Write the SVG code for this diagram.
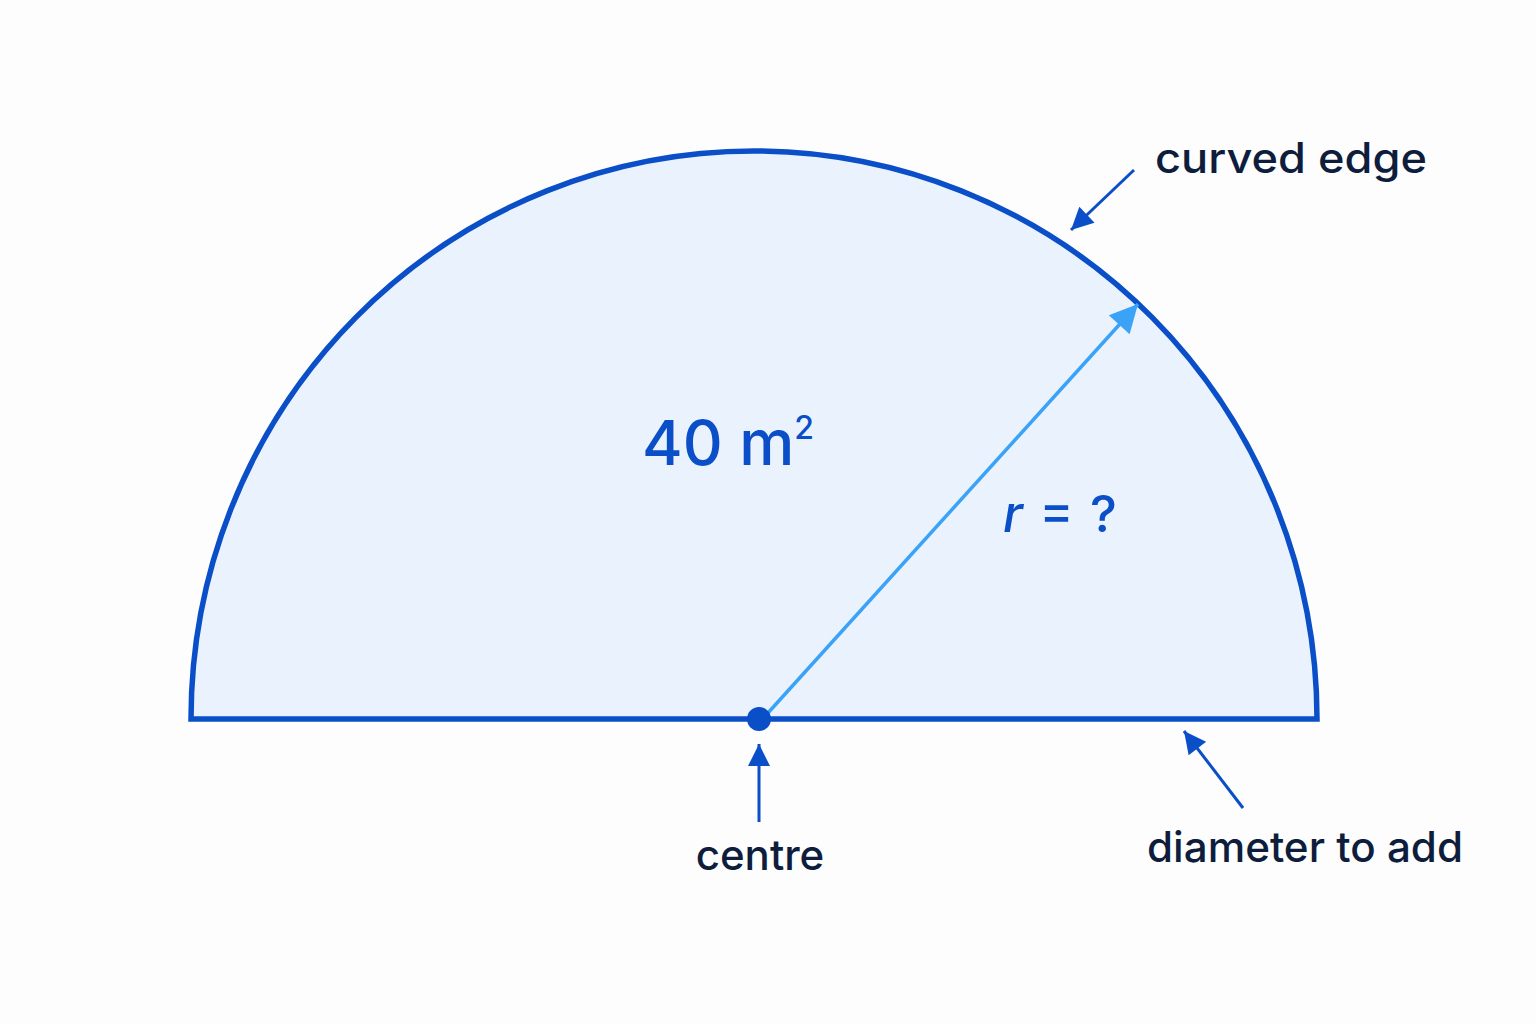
<svg xmlns="http://www.w3.org/2000/svg" width="1536" height="1024" viewBox="0 0 1536 1024">
<defs>
<style>
.lbl{font-family:Inter,"Noto Sans","Liberation Sans",sans-serif;fill:#0f1d3d;font-size:42px;font-weight:500}
.blue{font-family:Inter,"Noto Sans","Liberation Sans",sans-serif;fill:#0a4fc8;font-weight:500}
.ptr{stroke:#0a4fc8;stroke-width:3;fill:none}
</style>
<marker id="ah2" viewBox="0 0 10 10" refX="10" refY="5" markerWidth="34" markerHeight="28" markerUnits="userSpaceOnUse" orient="auto">
<path d="M0,0 L10,5 L0,10 Z" fill="#3aa2f7"/>
</marker>
<marker id="ah3" viewBox="0 0 10 10" refX="10" refY="5" markerWidth="28" markerHeight="22" markerUnits="userSpaceOnUse" orient="auto">
<path d="M0,0 L10,5 L0,10 Z" fill="#0a4fc8"/>
</marker>
</defs>
<rect width="1536" height="1024" fill="#fdfdfe"/>
<g id="semicircle">
<path d="M191,719 A563,568 0 0 1 1317,719 Z" fill="#eaf3fd" stroke="#0a4fc8" stroke-width="5.5" stroke-linejoin="miter"/>
</g>
<g id="connectors">
<line x1="767" y1="714" x2="1138" y2="304" stroke="#3aa2f7" stroke-width="3.5" marker-end="url(#ah2)"/>
<line class="ptr" x1="1134" y1="170" x2="1071" y2="230" marker-end="url(#ah3)"/>
<line class="ptr" x1="759" y1="822" x2="759" y2="744" marker-end="url(#ah3)"/>
<line class="ptr" x1="1243" y1="808" x2="1184" y2="731" marker-end="url(#ah3)"/>
</g>
<g id="centre-dot">
<circle cx="759" cy="719" r="12" fill="#0a4fc8"/>
</g>
<g id="area-label">
<text class="blue" x="642" y="465" font-size="62">40 m<tspan font-size="32" dy="-26">2</tspan></text>
</g>
<g id="radius-label">
<text class="blue" x="1003" y="532" font-size="51" textLength="114" lengthAdjust="spacing"><tspan font-style="italic">r</tspan> = ?</text>
</g>
<g id="curved-edge-label">
<text class="lbl" x="1155" y="173" font-size="47" textLength="272" lengthAdjust="spacingAndGlyphs">curved edge</text>
</g>
<g id="centre-label">
<text class="lbl" x="760" y="870" text-anchor="middle">centre</text>
</g>
<g id="diameter-label">
<text class="lbl" x="1147" y="862" textLength="316" lengthAdjust="spacingAndGlyphs">diameter to add</text>
</g>
</svg>
